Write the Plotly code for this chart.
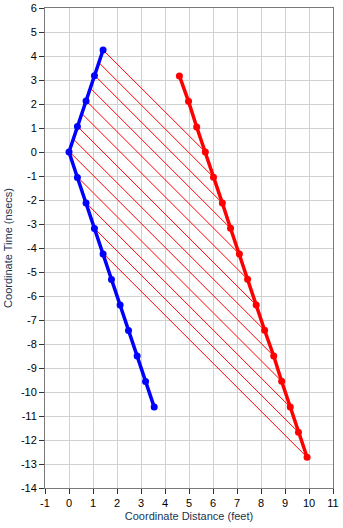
import numpy as np
import plotly.graph_objects as go

# Blue worldline: coordinate distance (feet) and coordinate time (nsecs)
blue_x = [1.42, 1.06, 0.71, 0.35, 0.00, 0.35, 0.71, 1.06, 1.42, 1.77, 2.13, 2.48, 2.84, 3.19, 3.55]
blue_t = [4.25, 3.18, 2.12, 1.06, 0.00, -1.06, -2.13, -3.19, -4.25, -5.31, -6.38, -7.44, -8.50, -9.56, -10.63]

# Red worldline
red_x = [4.60, 4.98, 5.32, 5.68, 6.02, 6.39, 6.73, 7.10, 7.44, 7.80, 8.15, 8.53, 8.86, 9.22, 9.56, 9.92]
red_t = [3.17, 2.11, 1.04, 0.00, -1.05, -2.13, -3.18, -4.25, -5.30, -6.38, -7.43, -8.50, -9.55, -10.63, -11.68, -12.72]

# Axis ticks
x_ticks = list(range(-1, 12))
x_tick_text = ["-1", "0", "1", "2", "3", "4", "5", "6", "7", "8", "9", "10", "11"]
y_ticks = list(range(-14, 7))
y_tick_text = ["-14", "-13", "-12", "-11", "-10", "-9", "-8", "-7", "-6", "-5", "-4",
               "-3", "-2", "-1", "0", "1", "2", "3", "4", "5", "6"]


def hit_blue(s):
    """Point where the light line x + t = s meets the blue worldline."""
    bx = np.array(blue_x)
    bt = np.array(blue_t)
    u = bx + bt
    for i in range(len(u) - 1):
        a, b = u[i], u[i + 1]
        if (a - s) * (b - s) <= 0 and a != b:
            f = (s - a) / (b - a)
            return bx[i] + f * (bx[i + 1] - bx[i]), bt[i] + f * (bt[i + 1] - bt[i])
    k = int(np.argmin(np.abs(u - s)))
    return bx[k], bt[k]


# Light signals from each red tick (t <= 0) back to the blue worldline
sig_x, sig_t = [], []
for x, t in zip(red_x, red_t):
    if t > 0.01:
        continue
    hx, ht = hit_blue(x + t)
    sig_x += [x, hx, None]
    sig_t += [t, ht, None]

fig = go.Figure()
fig.add_trace(go.Scatter(x=sig_x, y=sig_t, mode="lines",
                         line=dict(color="#ff0000", width=1), hoverinfo="skip"))
fig.add_trace(go.Scatter(x=blue_x, y=blue_t, mode="lines+markers",
                         line=dict(color="#0000ff", width=3.5),
                         marker=dict(color="#0000ff", size=7)))
fig.add_trace(go.Scatter(x=red_x, y=red_t, mode="lines+markers",
                         line=dict(color="#ff0000", width=3.5),
                         marker=dict(color="#ff0000", size=7)))

axis_font = dict(family="Liberation Sans, Arial, sans-serif", size=11, color="#000000")
title_font = dict(family="Liberation Sans, Arial, sans-serif", size=11, color="#1a3550")

fig.update_layout(
    width=343, height=528,
    margin=dict(l=45, r=10, t=8, b=40),
    paper_bgcolor="white", plot_bgcolor="white",
    showlegend=False,
    xaxis=dict(range=[-1, 11], tickvals=x_ticks, ticktext=x_tick_text,
               showgrid=True, gridcolor="#d0d0d0", gridwidth=1,
               zeroline=False, showline=True, linecolor="#7a7a7a", linewidth=1,
               mirror=True, ticks="outside", ticklen=5, tickcolor="#333333",
               tickfont=axis_font, automargin=False,
               title=dict(text="Coordinate Distance (feet)", font=title_font, standoff=4)),
    yaxis=dict(range=[-14, 6], tickvals=y_ticks, ticktext=y_tick_text,
               showgrid=True, gridcolor="#d0d0d0", gridwidth=1,
               zeroline=False, showline=True, linecolor="#7a7a7a", linewidth=1,
               mirror=True, ticks="outside", ticklen=5, tickcolor="#333333",
               tickfont=axis_font, automargin=False,
               title=dict(text="Coordinate Time (nsecs)", font=title_font, standoff=6)),
)

fig.write_html("out.html")
